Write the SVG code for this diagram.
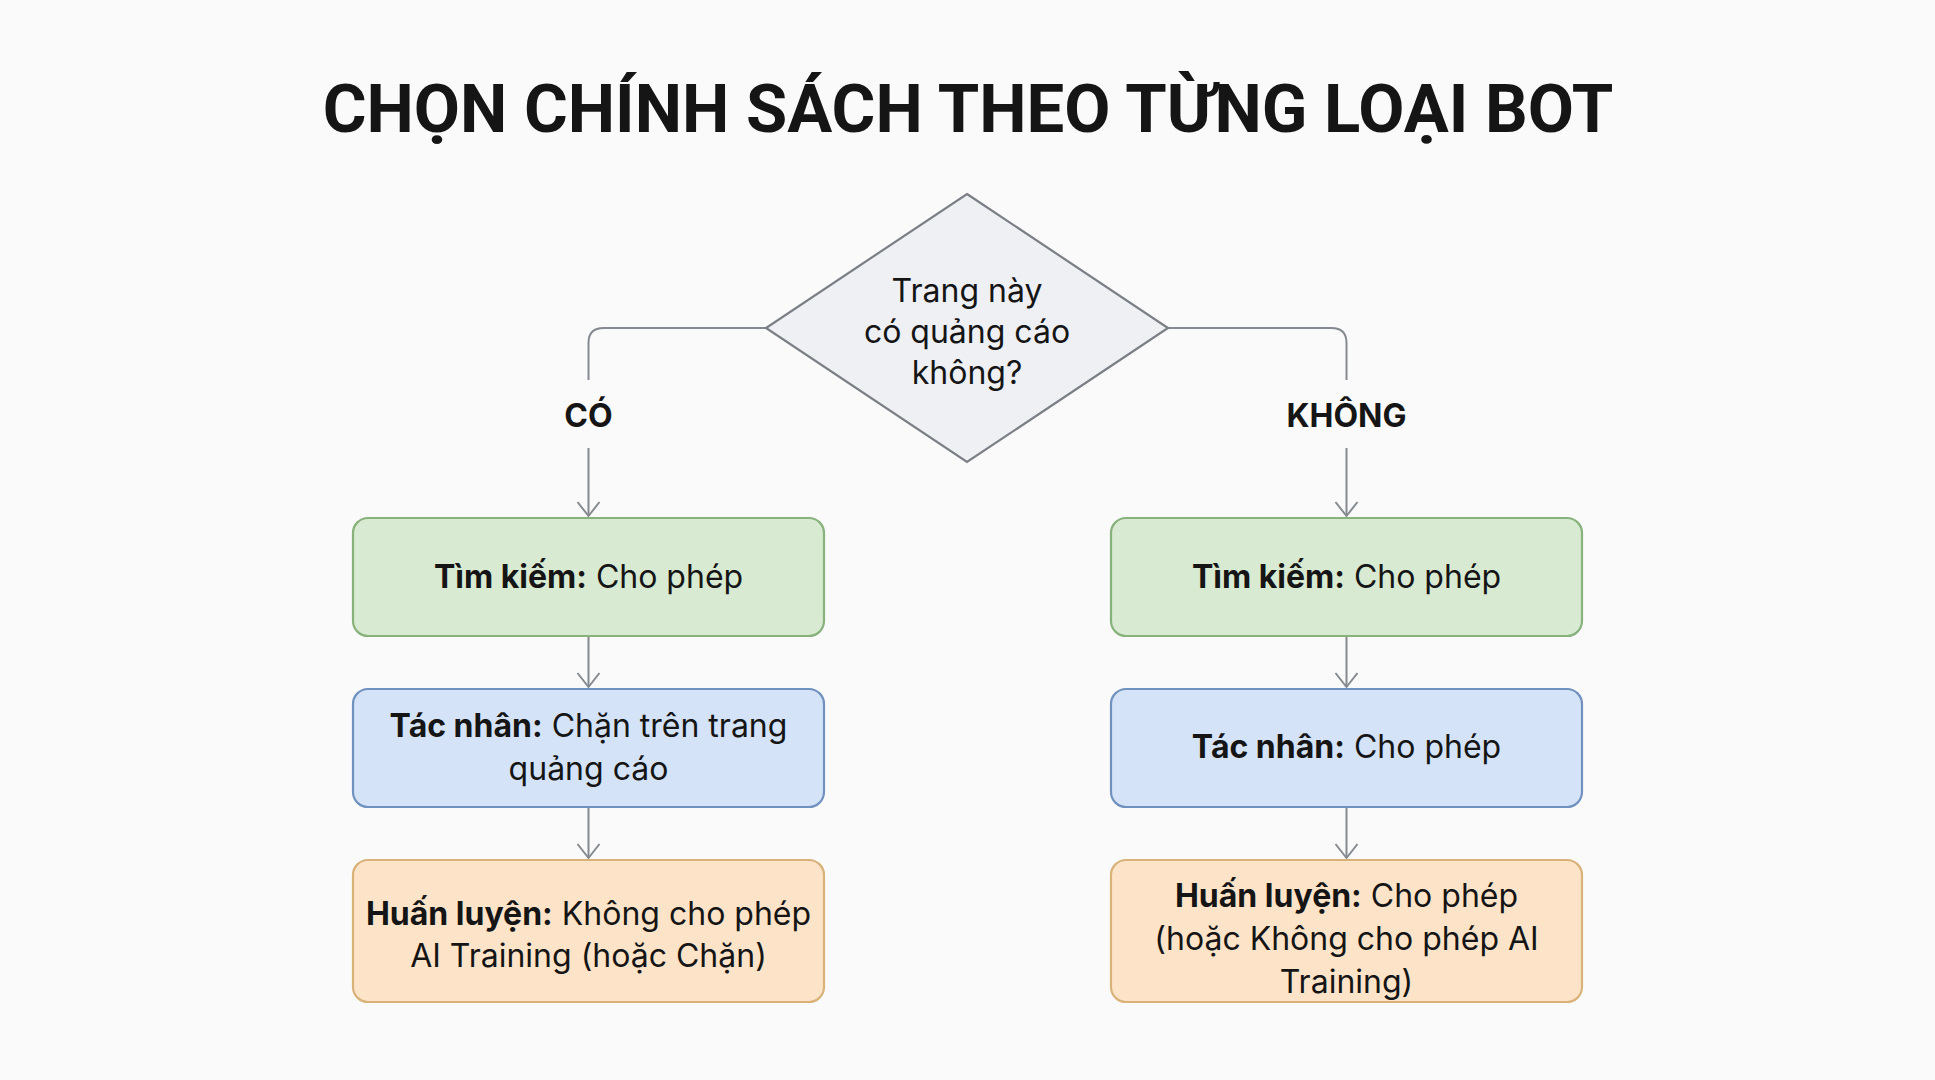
<svg xmlns="http://www.w3.org/2000/svg" width="1935" height="1080" viewBox="0 0 1935 1080">
<defs>
<style>
.t{font-family:Inter,Roboto,"Liberation Sans",sans-serif;fill:#151515;}
.title{font-family:Roboto,"Liberation Sans",sans-serif;font-size:67px;font-weight:700;text-anchor:middle;}
.body{font-size:32px;text-anchor:middle;}
.b{font-weight:700;}
.lbl{font-size:32px;font-weight:700;text-anchor:middle;}
.conn{fill:none;stroke:#858a90;stroke-width:2;}
.green{fill:#d8ead2;stroke:#88b27c;stroke-width:2.2;}
.blue{fill:#d4e3f8;stroke:#7191bf;stroke-width:2.2;}
.orange{fill:#fde4c9;stroke:#d9b27a;stroke-width:2.2;}
.dia{fill:#eef0f4;stroke:#7a7f86;stroke-width:2.2;}
</style>
<marker id="arr" markerUnits="userSpaceOnUse" viewBox="-16 -14 18 28" refX="0" refY="0" markerWidth="18" markerHeight="28" orient="auto" overflow="visible">
<path d="M-14,-11 L0,0 L-14,11" fill="none" stroke="#858a90" stroke-width="2"/>
</marker>
</defs>
<rect width="1935" height="1080" fill="#fafafa"/>
<text class="t title" x="968" y="132">CHỌN CHÍNH SÁCH THEO TỪNG LOẠI BOT</text>

<g id="connectors">
<path class="conn" d="M766,328 H603.5 Q588.5,328 588.5,343 V380"/>
<path class="conn" d="M588.5,448 V516" marker-end="url(#arr)"/>
<path class="conn" d="M1168,328 H1331.5 Q1346.5,328 1346.5,343 V380"/>
<path class="conn" d="M1346.5,448 V516" marker-end="url(#arr)"/>
<path class="conn" d="M588.5,636 V687" marker-end="url(#arr)"/>
<path class="conn" d="M588.5,807 V858" marker-end="url(#arr)"/>
<path class="conn" d="M1346.5,636 V687" marker-end="url(#arr)"/>
<path class="conn" d="M1346.5,807 V858" marker-end="url(#arr)"/>
<text class="t lbl" x="588.5" y="427">CÓ</text>
<text class="t lbl" x="1346.5" y="427">KHÔNG</text>
</g>

<g id="decision">
<polygon class="dia" points="967,194 1168,328 967,462 766,328"/>
<text class="t body" x="967" y="302">Trang này</text>
<text class="t body" x="967" y="343">có quảng cáo</text>
<text class="t body" x="967" y="384">không?</text>
</g>

<g id="left-search">
<rect class="green" x="353" y="518" width="471" height="118" rx="15"/>
<text class="t body" x="588.5" y="588"><tspan class="b">Tìm kiếm:</tspan> Cho phép</text>
</g>
<g id="left-agent">
<rect class="blue" x="353" y="689" width="471" height="118" rx="15"/>
<text class="t body" x="588.5" y="737"><tspan class="b">Tác nhân:</tspan> Chặn trên trang</text>
<text class="t body" x="588.5" y="780">quảng cáo</text>
</g>
<g id="left-training">
<rect class="orange" x="353" y="860" width="471" height="142" rx="15"/>
<text class="t body" x="588.5" y="925"><tspan class="b">Huấn luyện:</tspan> Không cho phép</text>
<text class="t body" x="588.5" y="967">AI Training (hoặc Chặn)</text>
</g>

<g id="right-search">
<rect class="green" x="1111" y="518" width="471" height="118" rx="15"/>
<text class="t body" x="1346.5" y="588"><tspan class="b">Tìm kiếm:</tspan> Cho phép</text>
</g>
<g id="right-agent">
<rect class="blue" x="1111" y="689" width="471" height="118" rx="15"/>
<text class="t body" x="1346.5" y="758"><tspan class="b">Tác nhân:</tspan> Cho phép</text>
</g>
<g id="right-training">
<rect class="orange" x="1111" y="860" width="471" height="142" rx="15"/>
<text class="t body" x="1346.5" y="907"><tspan class="b">Huấn luyện:</tspan> Cho phép</text>
<text class="t body" x="1346.5" y="950">(hoặc Không cho phép AI</text>
<text class="t body" x="1346.5" y="993">Training)</text>
</g>
</svg>
